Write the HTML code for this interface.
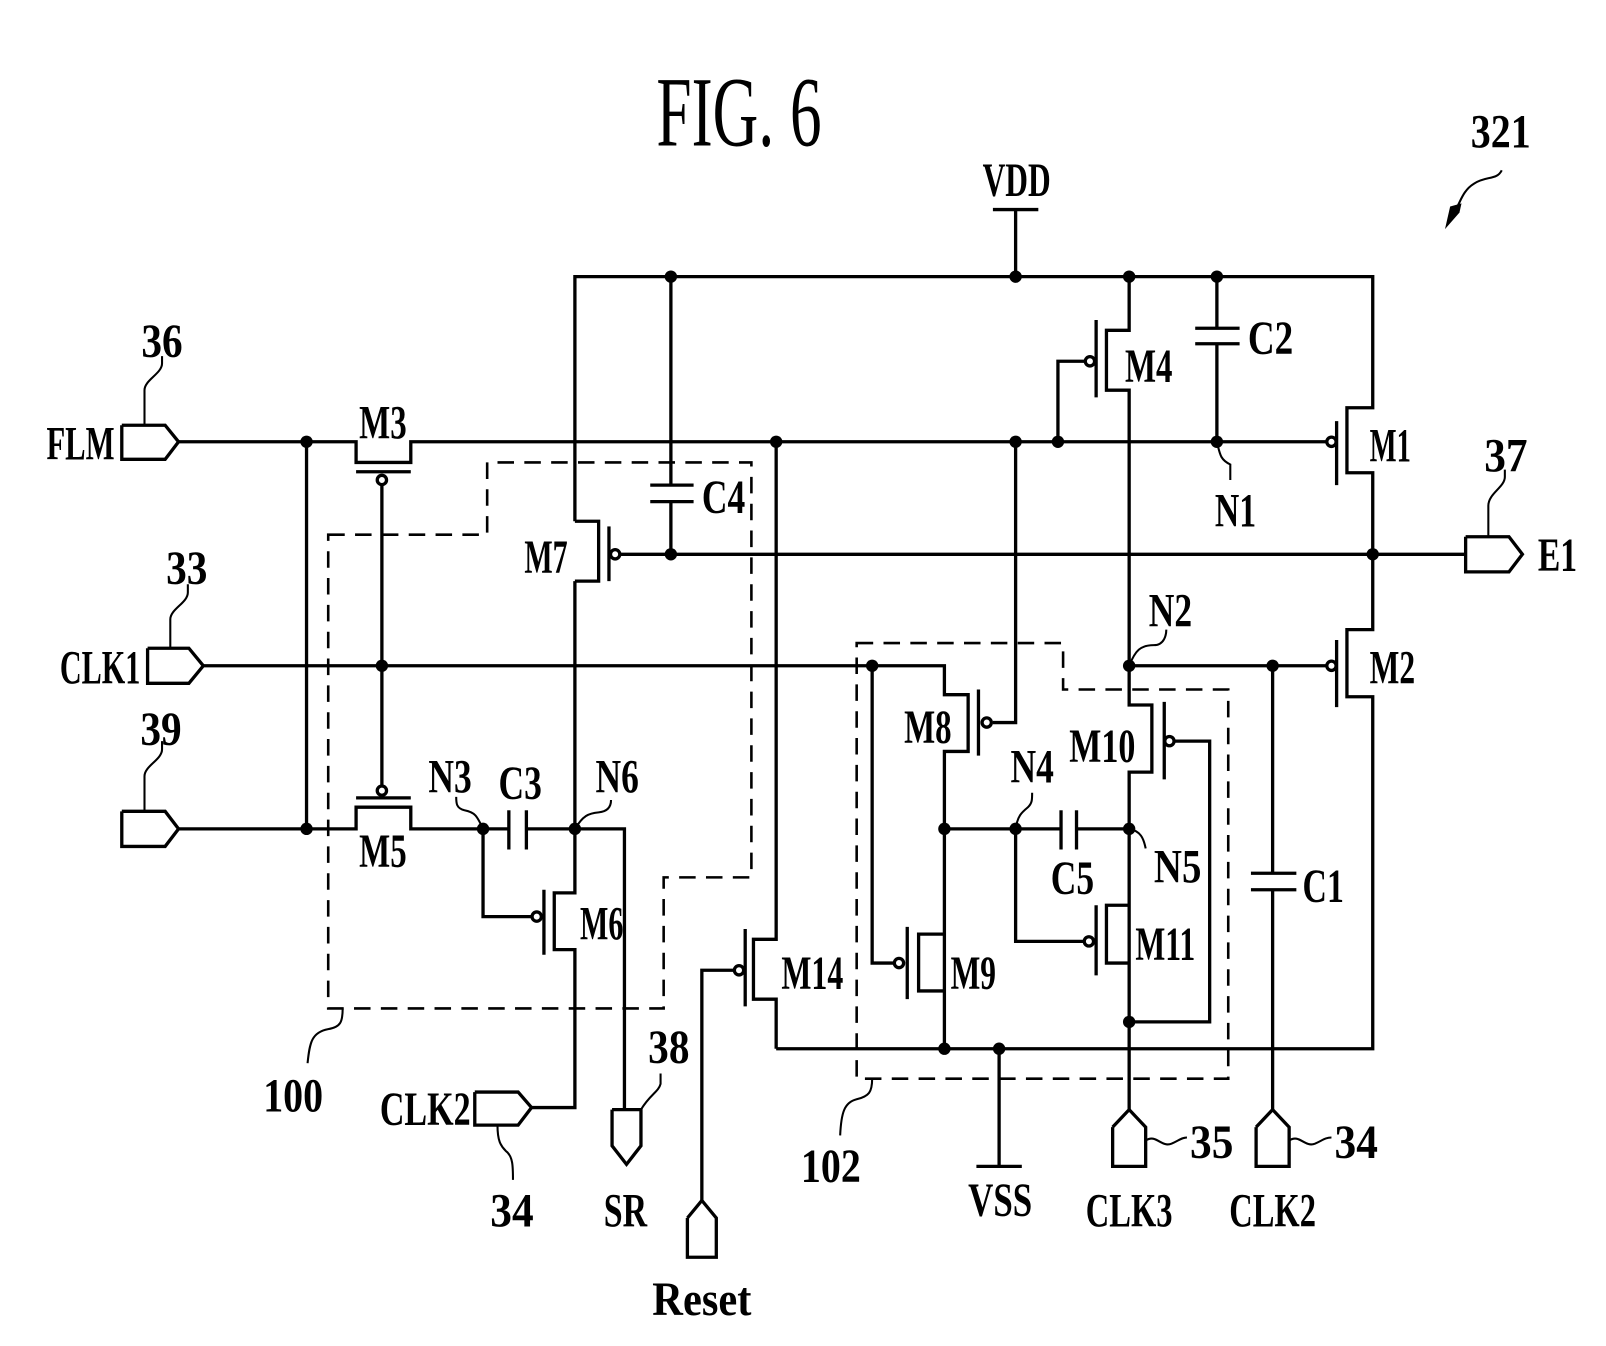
<!DOCTYPE html>
<html><head><meta charset="utf-8"><style>
html,body{margin:0;padding:0;background:#fff;}
svg{display:block;}
text{font-family:"Liberation Serif",serif;fill:#000;font-weight:bold;}
text.fig{font-weight:normal;}
</style></head><body>
<svg width="1606" height="1346" viewBox="0 0 1556 1304" preserveAspectRatio="none" xmlns="http://www.w3.org/2000/svg">
<g fill="none" stroke="#000" stroke-width="3.2">
<polyline points="557,505 557,268 1330,268 1330,395 1305,395 1305,458 1330,458 1330,610 1305,610 1305,675 1330,675 1330,1016 752,1016"/>
<line x1="984" y1="203" x2="984" y2="268"/>
<line x1="962" y1="203" x2="1006" y2="203"/>
<line x1="1295" y1="408" x2="1295" y2="470"/>
<circle cx="1290" cy="428" r="4.5" fill="#fff"/>
<line x1="1295" y1="620" x2="1295" y2="685"/>
<circle cx="1290" cy="645" r="4.5" fill="#fff"/>
<line x1="601" y1="537" x2="1420" y2="537"/>
<polyline points="1420,520 1462,520 1475,537 1462,554 1420,554 1420,520"/>
<polyline points="118,412 160,412 173,428 160,445 118,445 118,412"/>
<polyline points="173,428 345,428 345,448 398,448 398,428 1285,428"/>
<line x1="345" y1="457" x2="398" y2="457"/>
<circle cx="370" cy="465" r="4.5" fill="#fff"/>
<line x1="370" y1="470" x2="370" y2="761"/>
<line x1="297" y1="428" x2="297" y2="803"/>
<polyline points="143,628 183,628 197,645 183,662 143,662 143,628"/>
<polyline points="197,645 915,645 915,673 938,673 938,728 915,728 915,1016"/>
<polyline points="118,786 160,786 173,803 160,820 118,820 118,786"/>
<polyline points="173,803 345,803 345,782 398,782 398,803 493,803"/>
<line x1="345" y1="773" x2="398" y2="773"/>
<circle cx="370" cy="766" r="4.5" fill="#fff"/>
<line x1="493" y1="785" x2="493" y2="823"/>
<line x1="510" y1="785" x2="510" y2="823"/>
<polyline points="510,803 605,803 605,1075"/>
<polyline points="593,1075 621,1075 621,1110 607,1128 593,1110 593,1075"/>
<polyline points="468,803 468,888 515,888"/>
<circle cx="520" cy="888" r="4.5" fill="#fff"/>
<line x1="527" y1="862" x2="527" y2="925"/>
<polyline points="557,505 580,505 580,563 557,563"/>
<line x1="590" y1="510" x2="590" y2="563"/>
<circle cx="596" cy="537" r="4.5" fill="#fff"/>
<polyline points="557,563 557,865 537,865 537,920 557,920 557,1073 515,1073"/>
<polyline points="460,1058 502,1058 515,1073 502,1090 460,1090 460,1058"/>
<polyline points="650,268 650,470"/>
<polyline points="650,486 650,537"/>
<line x1="630" y1="470" x2="672" y2="470"/>
<line x1="630" y1="486" x2="672" y2="486"/>
<polyline points="752,428 752,910 730,910 730,968 752,968 752,1016"/>
<line x1="722" y1="900" x2="722" y2="975"/>
<circle cx="716" cy="940" r="4.5" fill="#fff"/>
<polyline points="711,940 680,940 680,1165"/>
<polyline points="666,1180 680,1163 694,1180 694,1218 666,1218 666,1180"/>
<polyline points="1094,268 1094,320 1072,320 1072,378 1094,378 1094,683 1116,683 1116,748 1094,748 1094,1075"/>
<line x1="1062" y1="310" x2="1062" y2="385"/>
<circle cx="1056" cy="350" r="4.5" fill="#fff"/>
<polyline points="1051,350 1025,350 1025,428"/>
<line x1="1179" y1="268" x2="1179" y2="318"/>
<line x1="1179" y1="333" x2="1179" y2="428"/>
<line x1="1158" y1="318" x2="1201" y2="318"/>
<line x1="1158" y1="333" x2="1201" y2="333"/>
<polyline points="984,428 984,700 962,700"/>
<line x1="948" y1="668" x2="948" y2="732"/>
<circle cx="956" cy="700" r="4.5" fill="#fff"/>
<polyline points="845,645 845,933 866,933"/>
<circle cx="871" cy="933" r="4.5" fill="#fff"/>
<line x1="879" y1="898" x2="879" y2="968"/>
<polyline points="915,905 890,905 890,960 915,960"/>
<line x1="915" y1="803" x2="1028" y2="803"/>
<line x1="1043" y1="803" x2="1094" y2="803"/>
<line x1="1028" y1="785" x2="1028" y2="823"/>
<line x1="1043" y1="785" x2="1043" y2="823"/>
<polyline points="984,803 984,912 1050,912"/>
<circle cx="1055" cy="912" r="4.5" fill="#fff"/>
<line x1="1062" y1="877" x2="1062" y2="945"/>
<polyline points="1094,877 1072,877 1072,933 1094,933"/>
<line x1="1128" y1="680" x2="1128" y2="755"/>
<circle cx="1133" cy="718" r="4.5" fill="#fff"/>
<polyline points="1138,718 1172,718 1172,990 1094,990"/>
<polyline points="1078,1092 1094,1075 1110,1092 1110,1130 1078,1130 1078,1092"/>
<line x1="1094" y1="645" x2="1285" y2="645"/>
<line x1="1233" y1="645" x2="1233" y2="846"/>
<line x1="1233" y1="862" x2="1233" y2="1075"/>
<line x1="1212" y1="846" x2="1256" y2="846"/>
<line x1="1212" y1="862" x2="1256" y2="862"/>
<polyline points="1217,1092 1233,1075 1249,1092 1249,1130 1217,1130 1217,1092"/>
<line x1="968" y1="1016" x2="968" y2="1130"/>
<line x1="946" y1="1130" x2="990" y2="1130"/>
</g>
<g fill="none" stroke="#000" stroke-width="2.5" stroke-dasharray="16,10">
<polygon points="318,518 472,518 472,448 728,448 728,850 643,850 643,977 318,977"/>
<polygon points="830,623 1030,623 1030,668 1190,668 1190,1045 830,1045"/>
</g>
<g fill="none" stroke="#000" stroke-width="2">
<path d="M140,412 V378 C140,368 157,362 157,352 V345"/>
<path d="M165,628 V600 C165,590 182,584 182,574 V566"/>
<path d="M140,786 V752 C140,742 157,736 157,726 V718"/>
<path d="M1442,520 V490 C1442,478 1458,472 1458,462 V455"/>
<path d="M1179,428 C1182,440 1182,445 1192,450 V465"/>
<path d="M1094,645 C1100,630 1105,625 1118,625 C1128,625 1130,615 1130,610"/>
<path d="M984,803 C986,790 990,787 996,782 C1000,778 1000,775 1000,768"/>
<path d="M1094,803 C1105,805 1108,812 1110,822"/>
<path d="M468,803 C462,790 460,787 450,785 C442,783 442,778 442,772"/>
<path d="M557,803 C565,790 570,788 580,787 C590,786 592,780 592,775"/>
<path d="M332,977 C332,990 330,995 318,997 C302,1000 300,1010 298,1030"/>
<path d="M845,1045 C845,1058 842,1062 830,1065 C818,1068 815,1078 814,1100"/>
<path d="M482,1090 C482,1105 485,1110 490,1115 C497,1120 497,1130 497,1143"/>
<path d="M621,1075 C630,1060 638,1058 640,1050 V1040"/>
<path d="M1110,1105 C1120,1098 1125,1112 1135,1108 C1142,1105 1145,1102 1150,1102"/>
<path d="M1249,1105 C1259,1098 1264,1112 1274,1108 C1281,1105 1284,1102 1290,1102"/>
<path d="M1455,165 C1450,175 1440,170 1428,178 C1418,184 1415,195 1412,200"/>
</g>
<polygon points="1400,222 1405,200 1416,197 1414,206" fill="#000"/>
<g fill="#000">
<circle cx="650" cy="268" r="6"/><circle cx="984" cy="268" r="6"/><circle cx="1094" cy="268" r="6"/><circle cx="1179" cy="268" r="6"/>
<circle cx="297" cy="428" r="6"/><circle cx="752" cy="428" r="6"/><circle cx="984" cy="428" r="6"/><circle cx="1025" cy="428" r="6"/><circle cx="1179" cy="428" r="6"/>
<circle cx="650" cy="537" r="6"/><circle cx="1330" cy="537" r="6"/>
<circle cx="370" cy="645" r="6"/><circle cx="845" cy="645" r="6"/><circle cx="1094" cy="645" r="6"/><circle cx="1233" cy="645" r="6"/>
<circle cx="297" cy="803" r="6"/><circle cx="468" cy="803" r="6"/><circle cx="557" cy="803" r="6"/>
<circle cx="915" cy="803" r="6"/><circle cx="984" cy="803" r="6"/><circle cx="1094" cy="803" r="6"/>
<circle cx="1094" cy="990" r="6"/><circle cx="915" cy="1016" r="6"/><circle cx="968" cy="1016" r="6"/>
</g>
<g font-size="46">
<text class="fig" x="636" y="141" font-size="96" textLength="160" lengthAdjust="spacingAndGlyphs">FIG. 6</text>
<text x="1425" y="143" textLength="58" lengthAdjust="spacingAndGlyphs">321</text>
<text x="952" y="190" textLength="66" lengthAdjust="spacingAndGlyphs">VDD</text>
<text x="137" y="346" textLength="40" lengthAdjust="spacingAndGlyphs">36</text>
<text x="45" y="445" textLength="66" lengthAdjust="spacingAndGlyphs">FLM</text>
<text x="348" y="425" textLength="46" lengthAdjust="spacingAndGlyphs">M3</text>
<text x="1090" y="370" textLength="46" lengthAdjust="spacingAndGlyphs">M4</text>
<text x="1209" y="343" textLength="44" lengthAdjust="spacingAndGlyphs">C2</text>
<text x="1327" y="447" textLength="40" lengthAdjust="spacingAndGlyphs">M1</text>
<text x="1438" y="457" textLength="42" lengthAdjust="spacingAndGlyphs">37</text>
<text x="1177" y="510" textLength="40" lengthAdjust="spacingAndGlyphs">N1</text>
<text x="1490" y="553" textLength="38" lengthAdjust="spacingAndGlyphs">E1</text>
<text x="680" y="497" textLength="42" lengthAdjust="spacingAndGlyphs">C4</text>
<text x="508" y="555" textLength="42" lengthAdjust="spacingAndGlyphs">M7</text>
<text x="161" y="566" textLength="40" lengthAdjust="spacingAndGlyphs">33</text>
<text x="58" y="662" textLength="78" lengthAdjust="spacingAndGlyphs">CLK1</text>
<text x="1113" y="607" textLength="42" lengthAdjust="spacingAndGlyphs">N2</text>
<text x="1327" y="662" textLength="44" lengthAdjust="spacingAndGlyphs">M2</text>
<text x="136" y="722" textLength="40" lengthAdjust="spacingAndGlyphs">39</text>
<text x="876" y="720" textLength="46" lengthAdjust="spacingAndGlyphs">M8</text>
<text x="1036" y="738" textLength="64" lengthAdjust="spacingAndGlyphs">M10</text>
<text x="979" y="758" textLength="42" lengthAdjust="spacingAndGlyphs">N4</text>
<text x="415" y="768" textLength="42" lengthAdjust="spacingAndGlyphs">N3</text>
<text x="483" y="774" textLength="42" lengthAdjust="spacingAndGlyphs">C3</text>
<text x="577" y="768" textLength="42" lengthAdjust="spacingAndGlyphs">N6</text>
<text x="348" y="840" textLength="46" lengthAdjust="spacingAndGlyphs">M5</text>
<text x="1018" y="866" textLength="42" lengthAdjust="spacingAndGlyphs">C5</text>
<text x="1118" y="855" textLength="46" lengthAdjust="spacingAndGlyphs">N5</text>
<text x="1262" y="874" textLength="40" lengthAdjust="spacingAndGlyphs">C1</text>
<text x="562" y="910" textLength="42" lengthAdjust="spacingAndGlyphs">M6</text>
<text x="1100" y="930" textLength="58" lengthAdjust="spacingAndGlyphs">M11</text>
<text x="757" y="958" textLength="60" lengthAdjust="spacingAndGlyphs">M14</text>
<text x="921" y="958" textLength="44" lengthAdjust="spacingAndGlyphs">M9</text>
<text x="628" y="1030" textLength="40" lengthAdjust="spacingAndGlyphs">38</text>
<text x="255" y="1077" textLength="58" lengthAdjust="spacingAndGlyphs">100</text>
<text x="368" y="1090" textLength="88" lengthAdjust="spacingAndGlyphs">CLK2</text>
<text x="1153" y="1122" textLength="42" lengthAdjust="spacingAndGlyphs">35</text>
<text x="1293" y="1122" textLength="42" lengthAdjust="spacingAndGlyphs">34</text>
<text x="776" y="1145" textLength="58" lengthAdjust="spacingAndGlyphs">102</text>
<text x="938" y="1178" textLength="62" lengthAdjust="spacingAndGlyphs">VSS</text>
<text x="1052" y="1188" textLength="84" lengthAdjust="spacingAndGlyphs">CLK3</text>
<text x="1191" y="1188" textLength="84" lengthAdjust="spacingAndGlyphs">CLK2</text>
<text x="475" y="1188" textLength="42" lengthAdjust="spacingAndGlyphs">34</text>
<text x="585" y="1188" textLength="42" lengthAdjust="spacingAndGlyphs">SR</text>
<text x="632" y="1274" textLength="96" lengthAdjust="spacingAndGlyphs">Reset</text>
</g>
</svg>
</body></html>
